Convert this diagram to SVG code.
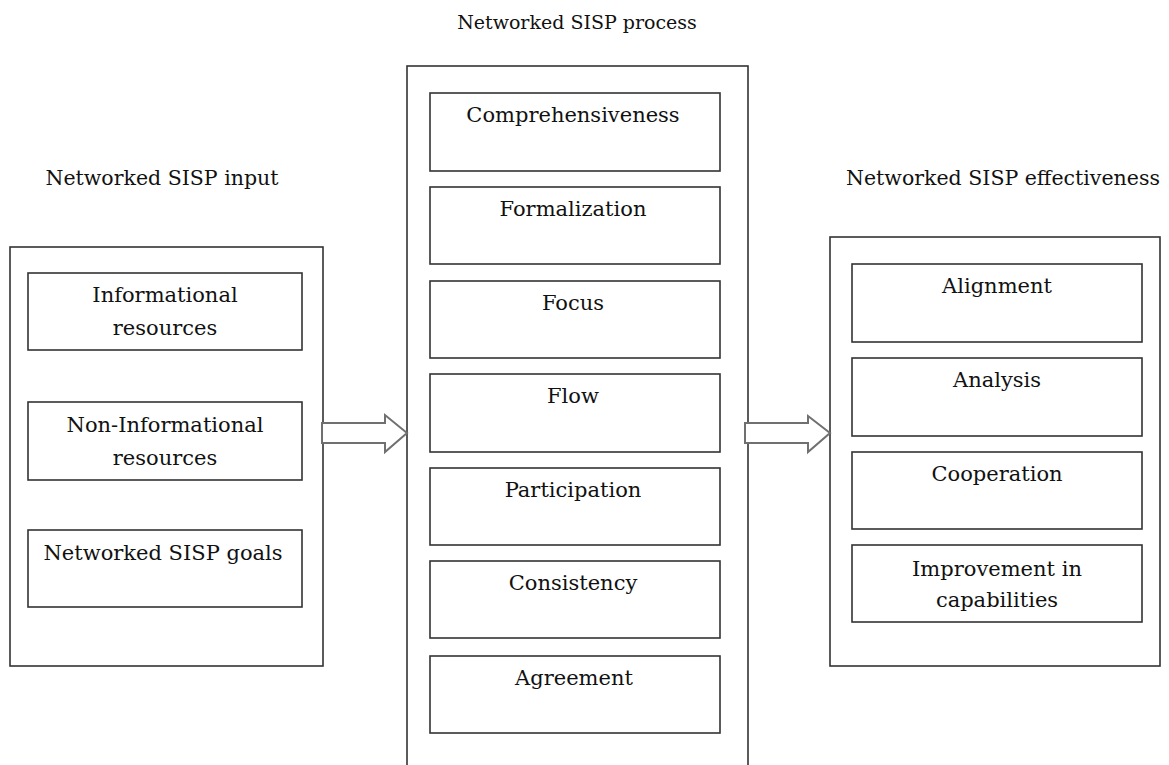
<svg xmlns="http://www.w3.org/2000/svg" width="1169" height="765" viewBox="0 0 1169 765">
  <style>
    .frame { fill: #ffffff; stroke: #333333; stroke-width: 1.6; }
    .box { fill: #ffffff; stroke: #333333; stroke-width: 1.6; }
    .arrow { fill: #ffffff; stroke: #707070; stroke-width: 2; stroke-linejoin: miter; }
    text { font-family: "DejaVu Serif", "Liberation Serif", serif; font-size: 21px; fill: #111111; text-anchor: middle; }
    .title { font-size: 20.5px; }
    .top { font-size: 19px; }
  </style>
  <rect width="1169" height="765" fill="#ffffff"/>

  <!-- column titles -->
  <text class="top" x="577" y="29">Networked SISP process</text>
  <text class="title" x="162" y="185">Networked SISP input</text>
  <text class="title" x="1003" y="185">Networked SISP effectiveness</text>

  <!-- input column -->
  <g id="input">
    <rect class="frame" x="10" y="247" width="313" height="419"/>
    <g id="informational">
      <rect class="box" x="28" y="273" width="274" height="77"/>
      <text x="165" y="302">Informational</text>
      <text x="165" y="335">resources</text>
    </g>
    <g id="non-informational">
      <rect class="box" x="28" y="402" width="274" height="78"/>
      <text x="165" y="432">Non-Informational</text>
      <text x="165" y="465">resources</text>
    </g>
    <g id="goals">
      <rect class="box" x="28" y="530" width="274" height="77"/>
      <text x="163" y="560">Networked SISP goals</text>
    </g>
  </g>

  <!-- process column -->
  <g id="process">
    <rect class="frame" x="407" y="66" width="341" height="710"/>
    <g id="comprehensiveness">
      <rect class="box" x="430" y="93" width="290" height="78"/>
      <text x="573" y="122">Comprehensiveness</text>
    </g>
    <g id="formalization">
      <rect class="box" x="430" y="187" width="290" height="77"/>
      <text x="573" y="216">Formalization</text>
    </g>
    <g id="focus">
      <rect class="box" x="430" y="281" width="290" height="77"/>
      <text x="573" y="310">Focus</text>
    </g>
    <g id="flow">
      <rect class="box" x="430" y="374" width="290" height="78"/>
      <text x="573" y="403">Flow</text>
    </g>
    <g id="participation">
      <rect class="box" x="430" y="468" width="290" height="77"/>
      <text x="573" y="497">Participation</text>
    </g>
    <g id="consistency">
      <rect class="box" x="430" y="561" width="290" height="77"/>
      <text x="573" y="590">Consistency</text>
    </g>
    <g id="agreement">
      <rect class="box" x="430" y="656" width="290" height="77"/>
      <text x="574" y="685">Agreement</text>
    </g>
  </g>

  <!-- effectiveness column -->
  <g id="effectiveness">
    <rect class="frame" x="830" y="237" width="330" height="429"/>
    <g id="alignment">
      <rect class="box" x="852" y="264" width="290" height="78"/>
      <text x="997" y="293">Alignment</text>
    </g>
    <g id="analysis">
      <rect class="box" x="852" y="358" width="290" height="78"/>
      <text x="997" y="387">Analysis</text>
    </g>
    <g id="cooperation">
      <rect class="box" x="852" y="452" width="290" height="77"/>
      <text x="997" y="481">Cooperation</text>
    </g>
    <g id="improvement">
      <rect class="box" x="852" y="545" width="290" height="77"/>
      <text x="997" y="576">Improvement in</text>
      <text x="997" y="607">capabilities</text>
    </g>
  </g>

  <!-- block arrows between columns -->
  <g id="connectors">
    <path class="arrow" d="M322,423 H385 V415 L407,433 L385,452 V443 H322 Z"/>
    <path class="arrow" d="M745,423 H808 V416 L830,433 L808,452 V443 H745 Z"/>
  </g>
</svg>
